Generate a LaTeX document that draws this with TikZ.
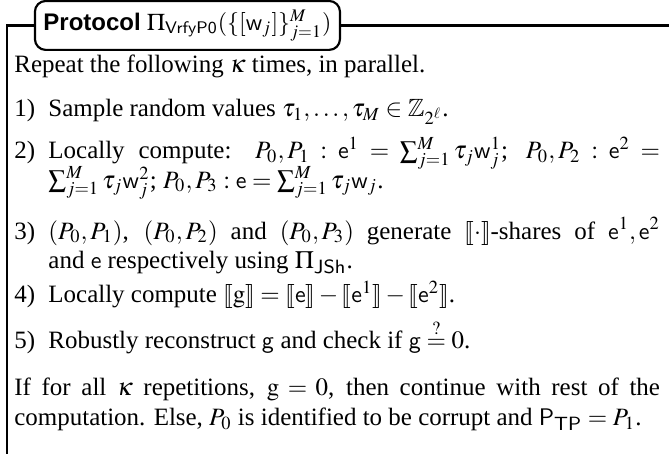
\documentclass[tikz,border=0pt]{standalone}
\usepackage{amsmath,amssymb}
\usepackage{mathptmx}
\usepackage{stmaryrd}
\usepackage{fontspec}
\setmainfont{Liberation Serif}
\setsansfont{Liberation Sans}
\newcommand{\itm}[1]{\hangindent=14.2pt\hangafter=1\noindent\makebox[14.2pt][l]{#1}}
\newcommand{\parsetup}{\fontsize{10.4pt}{12.2pt}\selectfont\baselineskip=12.2pt\relax\lineskiplimit=-8pt\relax\lineskip=0pt\relax}
\tikzset{
  frameline/.style={line width=1.2pt, line join=miter},
  titlebox/.style={draw, line width=0.9pt, rounded corners=4.5pt, minimum width=127.1pt, minimum height=20.4pt, inner sep=0pt},
  para/.style={anchor=base west, inner sep=0pt, text width=269pt, align=justify}
}
\begin{document}
\begin{tikzpicture}
\useasboundingbox (0,0) rectangle (278.75pt,-189.2pt);
\node[titlebox] (title) at (78.1pt,-10.6pt) {{\sffamily\bfseries Protocol} $\Pi_{\mathsf{VrfyP0}}(\{[\mathsf{w}_j]\}_{j=1}^M)$};
\coordinate (tl) at (2.9pt,-10.6pt);
\coordinate (bl) at (2.9pt,-189.2pt);
\coordinate (tr) at (278.75pt,-10.6pt);
\draw[frameline] (title.west) -- (tl) -- (bl);
\draw[frameline] (title.east) -- (tr);

\node[para] (p0) at (5.8pt,-30.4pt) {\parsetup Repeat the following $\kappa$ times, in parallel.\par};
\node[para] (p1) at (5.8pt,-48.75pt) {\parsetup\itm{1)}Sample random values $\tau_1, \ldots, \tau_M \in \mathbb{Z}_{2^\ell}$.\par};
\node[para] (p2) at (5.8pt,-66.2pt) {\parsetup\itm{2)}Locally compute: $P_0, P_1 : \mathsf{e}^1 = \sum_{j=1}^M \tau_j \mathsf{w}_j^1$; $P_0, P_2 : \mathsf{e}^2 =$\linebreak $\sum_{j=1}^M \tau_j \mathsf{w}_j^2$; $P_0, P_3 : \mathsf{e} = \sum_{j=1}^M \tau_j \mathsf{w}_j$.\par};
\node[para] (p3) at (5.8pt,-99.6pt) {\parsetup\itm{3)}$(P_0, P_1)$, $(P_0, P_2)$ and $(P_0, P_3)$ generate $\llbracket\cdot\rrbracket$-shares of $\mathsf{e}^1, \mathsf{e}^2$\linebreak and $\mathsf{e}$ respectively using $\Pi_{\mathsf{JSh}}$.\par};
\node[para] (p4) at (5.8pt,-126.2pt) {\parsetup\itm{4)}Locally compute $\llbracket \mathrm{g} \rrbracket = \llbracket \mathsf{e} \rrbracket - \llbracket \mathsf{e}^1 \rrbracket - \llbracket \mathsf{e}^2 \rrbracket$.\par};
\node[para] (p5) at (5.8pt,-145.4pt) {\parsetup\itm{5)}Robustly reconstruct $\mathsf{g}$ and check if $\mathsf{g} \stackrel{?}{=} 0$.\par};
\node[para] (p6) at (5.8pt,-165pt) {\parsetup If for all $\kappa$ repetitions, $\mathrm{g} = 0$, then continue with rest of the\linebreak computation. Else, $P_0$ is identified to be corrupt and $\mathsf{P}_{\mathsf{TP}} = P_1$.\par};
\end{tikzpicture}
\end{document}
